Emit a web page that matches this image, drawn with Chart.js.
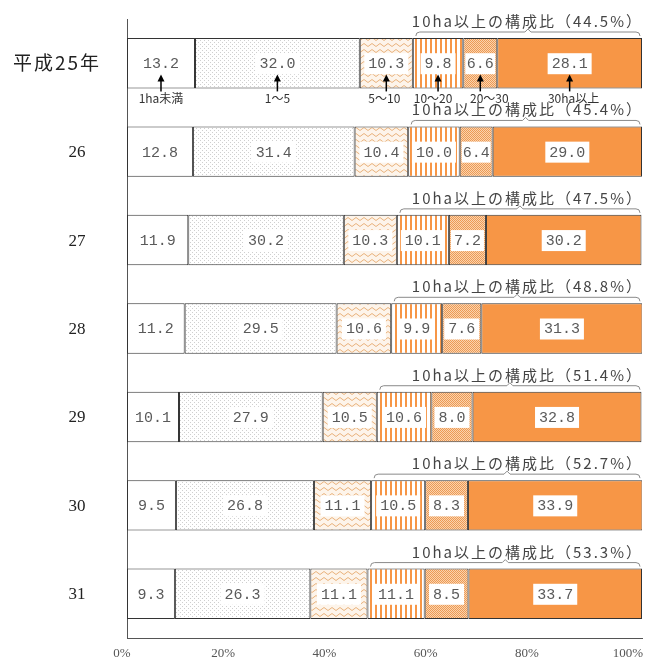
<!DOCTYPE html>
<html>
<head>
<meta charset="utf-8">
<script src="https://cdn.jsdelivr.net/npm/chart.js@4"></script>
<style>
  body { margin: 0; background: #fff; }
  canvas { display: block; }
</style>
</head>
<body>
<canvas id="grafico" width="651" height="660"></canvas>
<script>
// datos (%)
const years = ["平成25年", "26", "27", "28", "29", "30", "31"];
const classNames = ["1ha未満", "1～5", "5～10", "10～20", "20～30", "30ha以上"];
const under1 = [13.2, 12.8, 11.9, 11.2, 10.1, 9.5, 9.3];
const ha1to5 = [32.0, 31.4, 30.2, 29.5, 27.9, 26.8, 26.3];
const ha5to10 = [10.3, 10.4, 10.3, 10.6, 10.5, 11.1, 11.1];
const ha10to20 = [9.8, 10.0, 10.1, 9.9, 10.6, 10.5, 11.1];
const ha20to30 = [6.6, 6.4, 7.2, 7.6, 8.0, 8.3, 8.5];
const over30 = [28.1, 29.0, 30.2, 31.3, 32.8, 33.9, 33.7];
const share10 = [44.5, 45.4, 47.5, 48.8, 51.4, 52.7, 53.3];
const xTicks = [0, 20, 40, 60, 80, 100];

const ORANGE = "#f79646";

function makePattern(w, h, drawFn) {
    const c = document.createElement("canvas");
    c.width = w; c.height = h;
    const g = c.getContext("2d");
    drawFn(g);
    return document.getElementById("grafico").getContext("2d").createPattern(c, "repeat");
}

// puntos grises
const dots = makePattern(4, 4, g => {
    g.fillStyle = "#fff"; g.fillRect(0, 0, 4, 4);
    g.fillStyle = "#cfcfcf"; g.fillRect(0, 0, 1, 1); g.fillRect(2, 2, 1, 1);
});
// zigzag naranja
const zigzag = makePattern(8, 6, g => {
    g.fillStyle = "#fdf4ea"; g.fillRect(0, 0, 8, 6);
    g.strokeStyle = "#e9b27c"; g.lineWidth = 1;
    g.beginPath(); g.moveTo(0, 4.5); g.lineTo(4, 1.5); g.lineTo(8, 4.5); g.stroke();
});
// rayas verticales
const stripes = makePattern(5, 4, g => {
    g.fillStyle = "#fff"; g.fillRect(0, 0, 5, 4);
    g.fillStyle = ORANGE; g.fillRect(0, 0, 2, 4);
});
// malla densa
const mesh = makePattern(2, 2, g => {
    g.fillStyle = "#fbd3ad"; g.fillRect(0, 0, 2, 2);
    g.fillStyle = "#ec9a55"; g.fillRect(0, 0, 1, 1); g.fillRect(1, 1, 1, 1);
});

const series = [under1, ha1to5, ha5to10, ha10to20, ha20to30, over30];
const fills = ["#ffffff", dots, zigzag, stripes, mesh, ORANGE];

const etiquetas = {
    id: "etiquetas",
    afterDatasetsDraw(chart) {
        const ctx = chart.ctx;
        const xs = chart.scales.x;
        const ys = chart.scales.y;
        ctx.save();
        // valores
        chart.data.datasets.forEach((ds, i) => {
            chart.getDatasetMeta(i).data.forEach((el, j) => {
                const cx = (el.x + el.base) / 2;
                const txt = ds.data[j].toFixed(1);
                ctx.font = "15px 'Liberation Mono'";
                ctx.letterSpacing = "0px";
                const w = ctx.measureText(txt).width;
                const bw = Math.min(w + 8, Math.abs(el.x - el.base) - 4);
                ctx.fillStyle = "#fff";
                ctx.fillRect(cx - bw / 2, el.y - 10, bw, 21);
                ctx.fillStyle = "#5a5a5a";
                ctx.textAlign = "center";
                ctx.textBaseline = "middle";
                ctx.fillText(txt, cx, el.y + 1);
            });
        });
        // corchetes y texto del 10ha以上
        const m3 = chart.getDatasetMeta(3);
        const right = xs.getPixelForValue(100);
        m3.data.forEach((el, j) => {
            const top = el.y - el.height / 2;
            const x1 = el.base + 3, x2 = right - 2, by = top - 6;
            const mid = (x1 + x2) / 2;
            ctx.strokeStyle = "#8a8a8a";
            ctx.lineWidth = 1;
            ctx.beginPath();
            ctx.moveTo(x1, by + 4);
            ctx.quadraticCurveTo(x1, by, x1 + 4, by);
            ctx.lineTo(mid - 3, by);
            ctx.lineTo(mid, by - 3);
            ctx.lineTo(mid + 3, by);
            ctx.lineTo(x2 - 4, by);
            ctx.quadraticCurveTo(x2, by, x2, by + 4);
            ctx.stroke();
            ctx.font = "15px 'Noto Sans CJK JP'";
            ctx.letterSpacing = "2px";
            ctx.fillStyle = "#444";
            ctx.textAlign = "right";
            ctx.textBaseline = "alphabetic";
            ctx.fillText("10ha以上の構成比（" + share10[j].toFixed(1) + "%）", right + 1, top - 11);
        });
        ctx.letterSpacing = "0px";
        // nombres de clase con flechas (primera fila)
        const shift = [0, 0, -2, -5, 9, 4];
        const m0 = chart.getDatasetMeta(0);
        const bottom0 = m0.data[0].y + m0.data[0].height / 2;
        classNames.forEach((name, i) => {
            const el = chart.getDatasetMeta(i).data[0];
            const cx = (el.x + el.base) / 2;
            ctx.strokeStyle = "#000";
            ctx.fillStyle = "#000";
            ctx.lineWidth = 1.5;
            ctx.beginPath();
            ctx.moveTo(cx, bottom0 + 3);
            ctx.lineTo(cx, bottom0 - 10);
            ctx.stroke();
            ctx.beginPath();
            ctx.moveTo(cx, bottom0 - 14);
            ctx.lineTo(cx - 3.5, bottom0 - 7);
            ctx.lineTo(cx + 3.5, bottom0 - 7);
            ctx.closePath();
            ctx.fill();
            ctx.font = "12px 'Noto Sans CJK JP'";
            ctx.fillStyle = "#333";
            ctx.textAlign = "center";
            ctx.textBaseline = "middle";
            ctx.fillText(name, cx + shift[i], bottom0 + 10);
        });
        // etiquetas del eje Y
        years.forEach((y, j) => {
            const py = ys.getPixelForValue(j);
            ctx.fillStyle = "#222";
            ctx.textBaseline = "middle";
            ctx.textAlign = "center";
            if (j === 0) {
                ctx.font = "19px 'Noto Sans CJK JP'";
                ctx.letterSpacing = "2px";
                ctx.fillText(y, 57, py);
                ctx.letterSpacing = "0px";
            } else {
                ctx.font = "17px 'Liberation Serif'";
                ctx.fillText(y, 77, py + 1);
            }
        });
        // etiquetas del eje X (un poco desplazadas a la izquierda como el original)
        ctx.font = "13px 'Liberation Serif'";
        ctx.fillStyle = "#555";
        ctx.textAlign = "center";
        ctx.textBaseline = "middle";
        xTicks.forEach(v => {
            ctx.fillText(v + "%", xs.getPixelForValue(v) - 5 - v * 0.09, 654);
        });
        ctx.restore();
    }
};

new Chart(document.getElementById("grafico"), {
    type: "bar",
    data: {
        labels: years,
        datasets: series.map((d, i) => ({
            label: classNames[i],
            data: d,
            backgroundColor: fills[i],
            borderColor: "#333",
            borderWidth: 1,
            borderSkipped: false,
            barPercentage: 1,
            categoryPercentage: 0.57
        }))
    },
    options: {
        responsive: false,
        animation: false,
        indexAxis: "y",
        layout: { autoPadding: false, padding: { left: 127, right: 9, top: 19, bottom: 0 } },
        plugins: { legend: { display: false }, tooltip: { enabled: false } },
        scales: {
            x: {
                stacked: true,
                min: 0,
                max: 100,
                afterFit(scale) { scale.height = 22; },
                grid: { display: false },
                border: { display: true, color: "#555", width: 1 },
                ticks: { display: false }
            },
            y: {
                stacked: true,
                afterFit(scale) { scale.width = 0; },
                grid: { display: false },
                border: { display: true, color: "#555", width: 1 },
                ticks: { display: false }
            }
        }
    },
    plugins: [etiquetas]
});
</script>
</body>
</html>
